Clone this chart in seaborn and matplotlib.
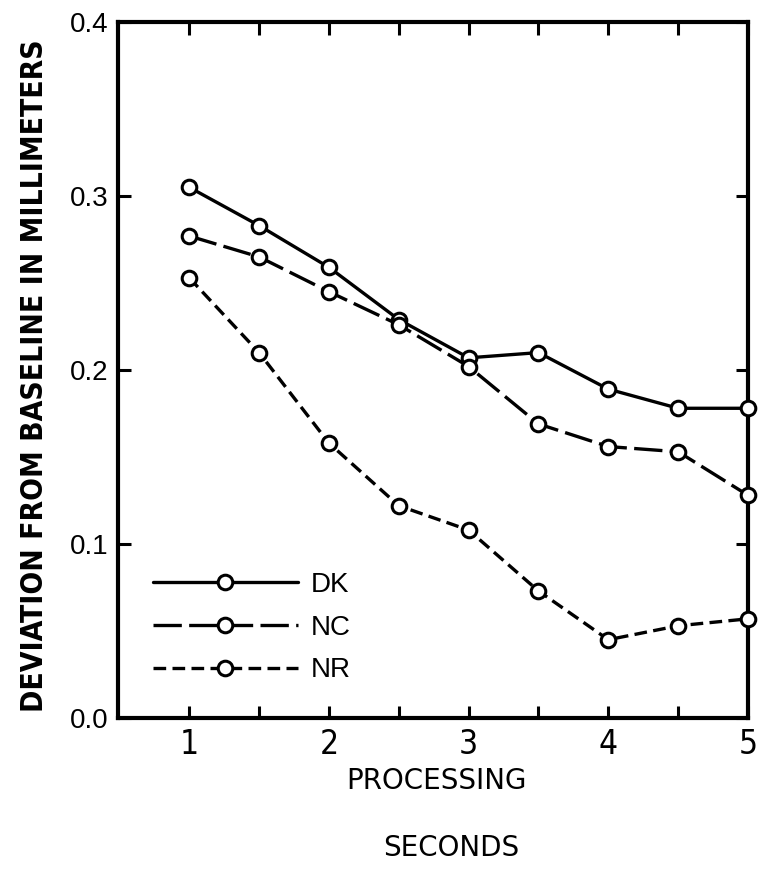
import matplotlib
matplotlib.use("Agg")
import matplotlib.pyplot as plt
import seaborn as sns
import pandas as pd
from matplotlib.ticker import FixedLocator

seconds = [1.0, 1.5, 2.0, 2.5, 3.0, 3.5, 4.0, 4.5, 5.0]
dk = [0.305, 0.283, 0.259, 0.229, 0.207, 0.210, 0.189, 0.178, 0.178]
nc = [0.277, 0.265, 0.245, 0.226, 0.202, 0.169, 0.156, 0.153, 0.128]
nr = [0.253, 0.210, 0.158, 0.122, 0.108, 0.073, 0.045, 0.053, 0.057]
groups = ["DK", "NC", "NR"]
x_ticks = [1, 2, 3, 4, 5]
x_minor = [1.5, 2.5, 3.5, 4.5]
y_ticks = [0.0, 0.1, 0.2, 0.3, 0.4]

df = pd.DataFrame({
    "sec": seconds * 3,
    "dev": dk + nc + nr,
    "group": ["DK"] * len(seconds) + ["NC"] * len(seconds) + ["NR"] * len(seconds),
})

sns.set_style("ticks")
plt.rcParams["font.family"] = ["Liberation Sans", "DejaVu Sans"]
for k in ["text.color", "axes.labelcolor", "xtick.color", "ytick.color", "axes.edgecolor"]:
    plt.rcParams[k] = "black"

fig = plt.figure(figsize=(7.68, 8.69), dpi=100)
ax = fig.add_axes([118 / 768, 1 - 718 / 869, (748 - 118) / 768, (718 - 22) / 869])

dashes = {"DK": "", "NC": (8.5, 2.2), "NR": (3.8, 1.9)}
sns.lineplot(data=df, x="sec", y="dev", hue="group", style="group",
             hue_order=groups, style_order=groups,
             palette={g: "black" for g in groups}, dashes=dashes,
             markers={g: "o" for g in groups}, markersize=10.5,
             markerfacecolor="white", markeredgecolor="black", markeredgewidth=2.2,
             linewidth=2.4, ax=ax, clip_on=False, zorder=3)

ax.set_xlim(0.49, 5.0)
ax.set_ylim(0.0, 0.4)
ax.xaxis.set_major_locator(FixedLocator(x_ticks))
ax.xaxis.set_minor_locator(FixedLocator(x_minor))
ax.yaxis.set_major_locator(FixedLocator(y_ticks))
ax.set_yticklabels([f"{v:.1f}" for v in y_ticks])
ax.set_xticklabels([str(v) for v in x_ticks])

for s in ax.spines.values():
    s.set_linewidth(3.0)
    s.set_visible(True)
ax.tick_params(which="both", direction="in", top=True, right=True, width=2.2,
               color="black", length=9)
ax.tick_params(axis="y", labelsize=20, pad=7)
ax.tick_params(axis="x", labelsize=24, pad=7)
for lbl in ax.get_xticklabels():
    lbl.set_family("DejaVu Sans")
    lbl.set_fontstretch("condensed")

ax.set_ylabel("")
ax.set_xlabel("")
fig.text(35 / 768, 1 - 376 / 869, "DEVIATION FROM BASELINE IN MILLIMETERS",
         rotation=90, ha="center", va="center", fontsize=21.5, fontweight="bold",
         family="DejaVu Sans", fontstretch="condensed")
fig.text(436 / 768, 1 - 781 / 869, "PROCESSING", fontsize=20,
         family="DejaVu Sans", ha="center", va="center")
fig.text(451 / 768, 1 - 848 / 869, "SECONDS", fontsize=20,
         family="DejaVu Sans", ha="center", va="center")

leg = ax.legend(loc="lower left", bbox_to_anchor=(0.016, 0.014), frameon=False,
                fontsize=20, handlelength=5.2, handletextpad=0.47, labelspacing=0.6,
                title=None)
for h in leg.get_lines():
    h.set_linewidth(2.4)
    h.set_color("black")
    h.set_markerfacecolor("white")
    h.set_markeredgecolor("black")

fig.savefig("out.png", dpi=100)
